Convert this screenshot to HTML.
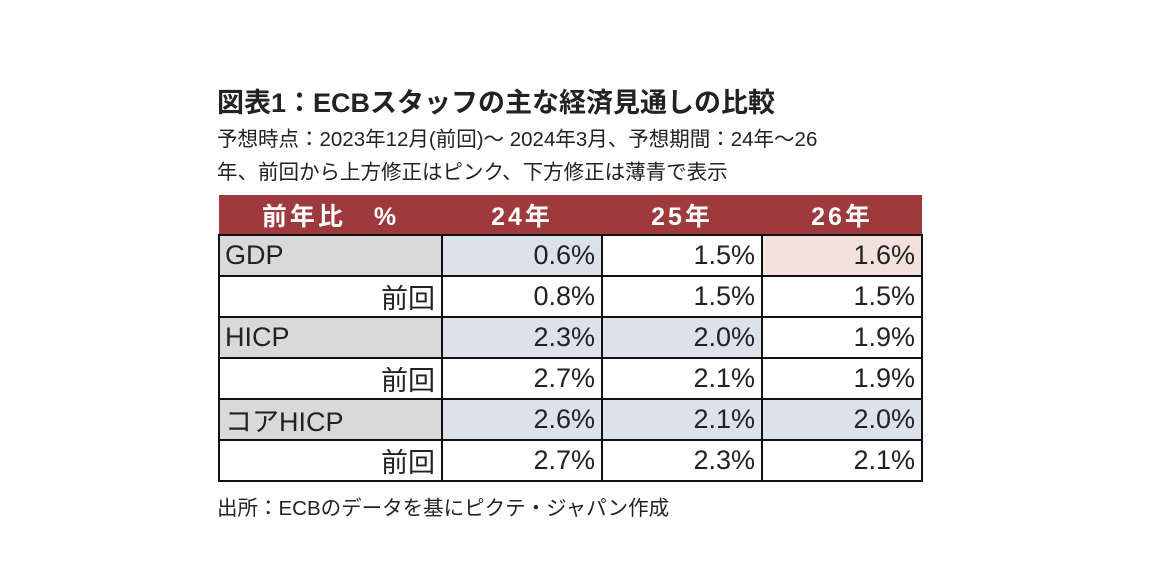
<!DOCTYPE html>
<html><head><meta charset="utf-8">
<style>
body{margin:0;width:1152px;height:580px;background:#fff;position:relative;overflow:hidden;font-family:"Liberation Sans","Noto Sans CJK JP",sans-serif;color:#222;}
.t{position:absolute;left:217px;white-space:nowrap;}
table{position:absolute;left:218px;top:195px;border-collapse:collapse;font-family:"Liberation Sans Narrow","Liberation Sans","Noto Sans CJK JP",sans-serif;}
th{background:#9e3a3e;color:#fff;font-family:"Liberation Sans","Noto Sans CJK JP",sans-serif;font-weight:bold;font-size:25px;height:39px;padding:0;letter-spacing:3px;}
td{border:2px solid #111;height:40.8px;padding:0 6px 0 5px;font-size:27px;box-sizing:border-box;}
td.v{text-align:right;width:160px;}
td.l{width:223px;background:#d9d9d9;}
td.p{text-align:right;}
.b{background:#dce2ea}.k{background:#f2e1dc}
</style></head><body>
<div class="t" style="top:81px;font-size:27px;font-weight:bold;">図表1：ECBスタッフの主な経済見通しの比較</div>
<div class="t" style="top:122px;font-size:20.5px;">予想時点：2023年12月(前回)～ 2024年3月、予想期間：24年～26</div>
<div class="t" style="top:155px;font-size:20.5px;">年、前回から上方修正はピンク、下方修正は薄青で表示</div>
<table>
<tr><th>前年比　%</th><th>24年</th><th>25年</th><th>26年</th></tr>
<tr><td class="l">GDP</td><td class="v b">0.6%</td><td class="v">1.5%</td><td class="v k">1.6%</td></tr>
<tr><td class="p">前回</td><td class="v">0.8%</td><td class="v">1.5%</td><td class="v">1.5%</td></tr>
<tr><td class="l">HICP</td><td class="v b">2.3%</td><td class="v b">2.0%</td><td class="v">1.9%</td></tr>
<tr><td class="p">前回</td><td class="v">2.7%</td><td class="v">2.1%</td><td class="v">1.9%</td></tr>
<tr><td class="l">コアHICP</td><td class="v b">2.6%</td><td class="v b">2.1%</td><td class="v b">2.0%</td></tr>
<tr><td class="p">前回</td><td class="v">2.7%</td><td class="v">2.3%</td><td class="v">2.1%</td></tr>
</table>
<div class="t" style="top:491px;font-size:20.5px;">出所：ECBのデータを基にピクテ・ジャパン作成</div>
</body></html>
